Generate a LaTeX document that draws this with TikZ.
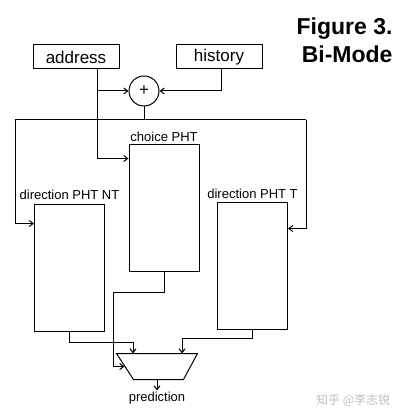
\documentclass[tikz,border=0pt]{standalone}
\usepackage{fontspec}
\setmainfont{Liberation Sans}
\newfontfamily\cjkfont{Noto Sans CJK SC}
\usetikzlibrary{positioning,arrows.meta}
\newcommand{\boxFont}[0]{\fontsize{17}{20}\selectfont}
\newcommand{\lblFont}[0]{\fontsize{13}{15}\selectfont}

\begin{document}
\begin{tikzpicture}[x=1pt, y=-1pt, line width=1pt, >={Straight Barb[length=4pt,width=6pt]}]
  \tikzset{inbox/.style={draw,inner sep=0pt,minimum width=86pt,minimum height=24pt,font=\boxFont},
    pht/.style={draw,inner sep=0pt,minimum width=70pt,minimum height=126pt},
    lbl/.style={inner sep=1pt,font=\lblFont},
    title/.style={align=right,inner sep=0pt,font=\fontsize{23}{28}\selectfont\bfseries}}
  \useasboundingbox (0,0) rectangle (405,419);
  \node[title,anchor=north east] (fig) at (393,17) {Figure 3.\\Bi-Mode};
  \node[inbox] (addr) at (76,57) {address};
  \node[inbox] (hist) at (219,57) {history};
  \node[draw,circle,minimum size=30pt,inner sep=0pt,font=\fontsize{17}{20}\selectfont] (xor) at (144,91) {+};
  \node[pht] (choice) at (164,208) {};
  \node[pht] (nt) at (69.5,268) {};
  \node[pht] (t) at (252.5,266) {};
  \node[lbl,above=1pt of choice] (choicelbl) {choice PHT};
  \node[lbl,above=3pt of nt] (ntlbl) {direction PHT NT};
  \node[lbl,above=2pt of t] (tlbl) {direction PHT T};
  \node[inner sep=0pt,minimum width=80pt,minimum height=25pt] (mux) at (157,366.5) {};
  \draw (mux.north west) -- (mux.north east) -- ([xshift=-14pt]mux.south east)
    -- ([xshift=17pt]mux.south west) -- cycle;
  \node[lbl,below=11pt of mux] (pred) {prediction};
  \node[text=black!25,font=\cjkfont\fontsize{12}{14}\selectfont,anchor=east] (mark) at (394,400) {知乎 @李志锐};
  \coordinate (lt) at (15,120);
  \coordinate (rt) at (306,120);
  % inputs
  \draw[->] ([xshift=21pt]addr.south) |- (xor.west);
  \draw[->] ([xshift=21pt]addr.south) |- ([yshift=-14pt]choice.north west);
  \draw[->] ([xshift=2pt]hist.south) |- (xor.east);
  \draw (xor.south) |- (lt);
  \draw (xor.south) |- (rt);
  \draw[->] (lt) |- ([yshift=-19pt]nt.north west);
  \draw[->] (rt) |- ([yshift=-26pt]t.north east);
  % outputs
  \draw[->] (nt.south) -- ++(0,11) -| ([xshift=-24pt]mux.north);
  \draw[->] (t.south) -- ++(0,9) -| ([xshift=25pt]mux.north);
  \draw[->] (choice.south) -- ++(0,21) -| ([xshift=-3pt]mux.west) -- ([xshift=8pt]mux.west);
  \draw[->] (mux.south) -- (pred.north);
\end{tikzpicture}
\end{document}
